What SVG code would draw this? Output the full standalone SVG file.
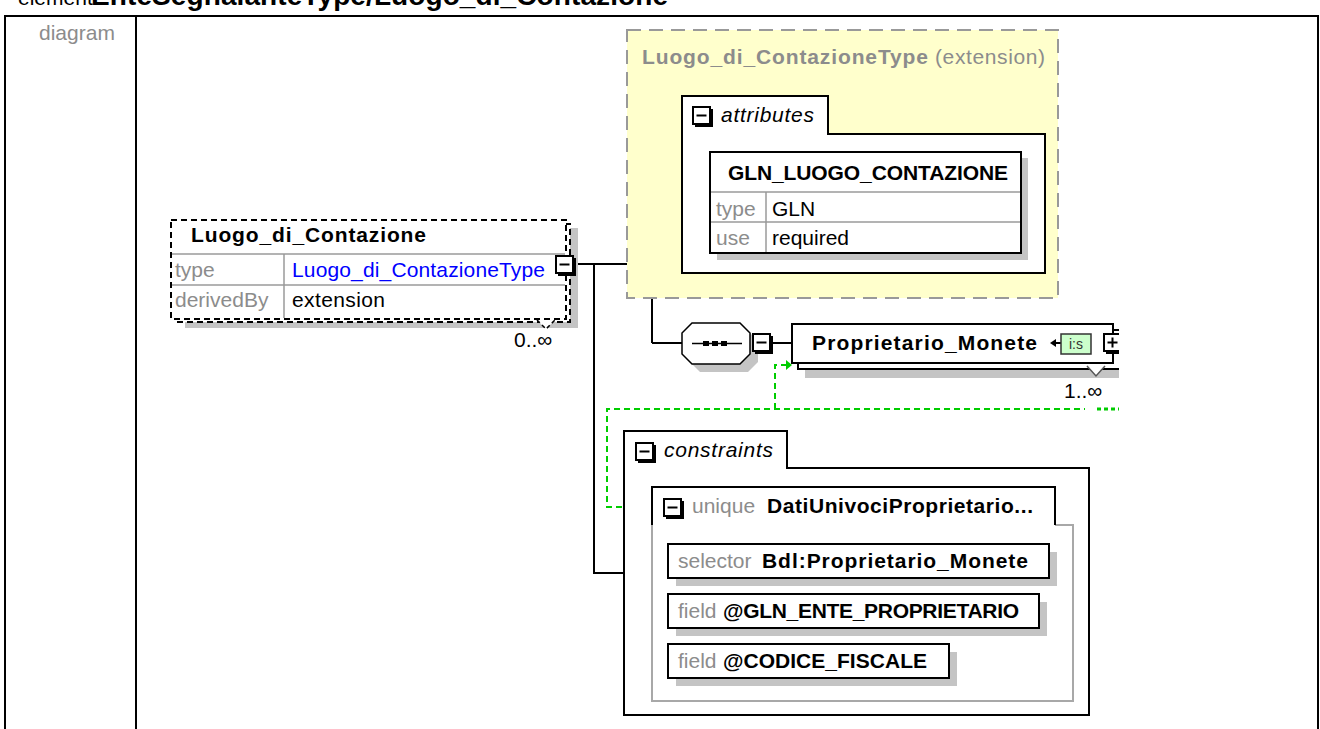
<svg xmlns="http://www.w3.org/2000/svg" width="1320" height="729" viewBox="0 0 1320 729">
<defs>
<style>
text { font-family: "Liberation Sans", Arial, sans-serif; font-size: 21px; fill: #000; }
.b { font-weight: bold; }
.g { fill: #8c8c8c; }
.i { font-style: italic; }
.blue { fill: #0000ff; }
.shadow { fill: #c4c4c4; }
.box { fill: #fff; stroke: #000; stroke-width: 2; }
.dbox { fill: #fff; stroke: #000; stroke-width: 2; stroke-dasharray: 6 4; }
.row { stroke: #9a9a9a; stroke-width: 1.5; fill: none; }
.conn { stroke: #000; stroke-width: 2; fill: none; }
.key { stroke: #00cc00; stroke-width: 2; fill: none; stroke-dasharray: 6 4; }
.frame { stroke: #000; stroke-width: 2; fill: none; }
</style>
<g id="minus">
<rect x="1" y="1" width="17" height="17" fill="#fff" stroke="#000" stroke-width="2"/>
<path d="M20,3 V20 H3" fill="none" stroke="#000" stroke-width="2"/>
<path d="M4.5,9.5 H14.5" stroke="#000" stroke-width="2"/>
</g>
<g id="plus">
<rect x="1" y="1" width="17" height="17" fill="#fff" stroke="#000" stroke-width="2"/>
<path d="M20,3 V20 H3" fill="none" stroke="#000" stroke-width="2"/>
<path d="M4.5,9.5 H14.5 M9.5,4.5 V14.5" stroke="#000" stroke-width="2"/>
</g>
<clipPath id="clipR"><rect x="0" y="0" width="1119" height="729"/></clipPath>
</defs>

<g id="page">
<text x="18" y="5" style="font-size:21px">element</text>
<text x="91" y="5" class="b" style="font-size:28px" textLength="577">EnteSegnalanteType/Luogo_di_Contazione</text>
<path class="frame" d="M5,740 V16 H1318 V740 M136,16 V740"/>
<text x="39" y="40" class="g">diagram</text>
</g>

<g id="connectors">
<path class="conn" d="M577,264 H652 M652,187 V343 M652,187 H682 M652,343 H682"/>
<path class="conn" d="M594,264 V573 H624"/>
<path class="conn" d="M773,343 H792"/>
<path class="key" d="M652,507 H607 V409 H1085"/>
<path class="key" d="M775,409 V365 H786"/>
<path d="M786,360 L792,365 L786,370 Z" fill="#00cc00"/>
<path d="M1097,409 H1119" stroke="#00cc00" stroke-width="3" stroke-dasharray="4 3" fill="none"/>
</g>

<g id="Luogo_di_Contazione">
<rect class="shadow" x="185" y="228" width="393" height="100"/>
<rect class="dbox" x="175" y="224" width="395" height="98"/>
<rect class="dbox" x="171" y="220" width="395" height="99"/>
<path class="row" d="M172,254 H565 M172,285 H565 M284,254 V318"/>
<path d="M537,320 L546,329 L555,320" fill="#fff" stroke="#000" stroke-width="1.5" stroke-dasharray="4 3"/>
<use href="#minus" x="555" y="255"/>
<text x="191" y="242" class="b" textLength="235">Luogo_di_Contazione</text>
<text x="175" y="277" class="g">type</text>
<text x="292" y="277" class="blue" textLength="253">Luogo_di_ContazioneType</text>
<text x="175" y="307" class="g">derivedBy</text>
<text x="292" y="307" textLength="93">extension</text>
<text x="514" y="347">0..∞</text>
</g>

<g id="Luogo_di_ContazioneType">
<rect x="627" y="30" width="431" height="268" fill="#ffffcc" stroke="#999" stroke-width="2" stroke-dasharray="14 8"/>
<text x="642" y="64" class="b g" textLength="286">Luogo_di_ContazioneType</text>
<text x="935" y="64" class="g" textLength="110">(extension)</text>
</g>

<g id="attributes">
<path class="box" d="M682,134 V96 H828 V134 H1045 V273 H682 Z"/>
<use href="#minus" x="692" y="106"/>
<text x="721" y="122" class="i" textLength="93">attributes</text>
</g>

<g id="GLN_LUOGO_CONTAZIONE">
<rect class="shadow" x="717" y="158" width="311" height="102"/>
<rect class="box" x="710" y="152" width="311" height="101"/>
<path class="row" d="M711,192 H1020 M711,222 H1020 M766,192 V252"/>
<text x="728" y="180" class="b" textLength="280">GLN_LUOGO_CONTAZIONE</text>
<text x="716" y="216" class="g">type</text>
<text x="772" y="216">GLN</text>
<text x="716" y="245" class="g">use</text>
<text x="772" y="245">required</text>
</g>

<g id="sequence">
<path d="M700,331 H748 L758,341 V362 L748,372 H700 L690,362 V341 Z" class="shadow"/>
<path d="M692,323 H740 L750,333 V354 L740,364 H692 L682,354 V333 Z" fill="#fff" stroke="#000" stroke-width="1.5"/>
<path d="M692,343.5 H742" stroke="#000" stroke-width="1.5"/>
<rect x="703" y="341" width="6" height="5" fill="#000"/>
<rect x="712" y="341" width="6" height="5" fill="#000"/>
<rect x="721" y="341" width="6" height="5" fill="#000"/>
<use href="#minus" x="752" y="333"/>
</g>

<g id="Proprietario_Monete" clip-path="url(#clipR)">
<rect class="shadow" x="805" y="336" width="320" height="42"/>
<rect class="box" x="798" y="330" width="322" height="39"/>
<rect class="box" x="792" y="324" width="321" height="39"/>
<path d="M1087,366 L1096,376 L1105,366" fill="#fff" stroke="#555" stroke-width="1.5"/>
<text x="812" y="350" class="b" textLength="225">Proprietario_Monete</text>
<path d="M1050,343 L1056,339 V347 Z" fill="#000"/>
<path d="M1055,343 H1061" stroke="#000" stroke-width="2"/>
<rect x="1061" y="334" width="30" height="20" fill="#ccffcc" stroke="#333" stroke-width="1.5"/>
<text x="1076" y="349" text-anchor="middle" style="font-size:14px;fill:#333">i:s</text>
<use href="#plus" x="1103" y="333"/>
<text x="1064" y="398">1..∞</text>
</g>

<g id="constraints">
<path class="box" d="M624,715 V431 H787 V468 H1089 V715 Z"/>
<use href="#minus" x="635" y="442"/>
<text x="664" y="457" class="i" textLength="109">constraints</text>
</g>

<g id="unique">
<path d="M652,525 V701 H1073 V525 H1055" fill="none" stroke="#a8a8a8" stroke-width="2"/>
<path d="M652,525 V487 H1055 V525" fill="none" stroke="#000" stroke-width="2"/>
<use href="#minus" x="663" y="498"/>
<text x="692" y="513" class="g">unique</text>
<text x="767" y="513" class="b" textLength="266">DatiUnivociProprietario...</text>
</g>

<g id="selector">
<rect class="shadow" x="676" y="552" width="381" height="34"/>
<rect class="box" x="668" y="544" width="381" height="34"/>
<text x="678" y="568" class="g">selector</text>
<text x="762" y="568" class="b" textLength="266">Bdl:Proprietario_Monete</text>
</g>

<g id="field_GLN">
<rect class="shadow" x="676" y="602" width="371" height="34"/>
<rect class="box" x="668" y="594" width="371" height="34"/>
<text x="678" y="618" class="g">field</text>
<text x="723" y="618" class="b" textLength="296">@GLN_ENTE_PROPRIETARIO</text>
</g>

<g id="field_CF">
<rect class="shadow" x="676" y="652" width="281" height="34"/>
<rect class="box" x="668" y="644" width="281" height="34"/>
<text x="678" y="668" class="g">field</text>
<text x="723" y="668" class="b" textLength="204">@CODICE_FISCALE</text>
</g>
</svg>
